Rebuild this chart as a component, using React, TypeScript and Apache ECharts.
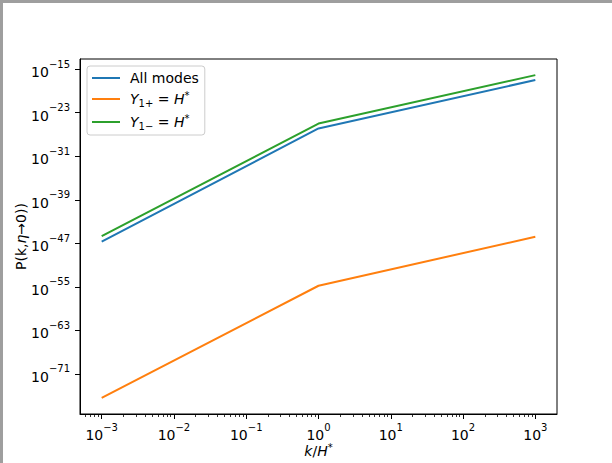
import React, { useEffect, useRef } from "react";
import * as echarts from "echarts";

const kValues = [1e-3, 1, 1e3];
const allModes = [2.0e-47, 1.3e-26, 1.0e-17];
const y1Plus = [4.0e-76, 1.6e-55, 1.6e-46];
const y1Minus = [2.0e-46, 1.0e-25, 8.0e-17];
const xTickExps = [-3, -2, -1, 0, 1, 2, 3];
const yTickExps = [-71, -63, -55, -47, -39, -31, -23, -15];
const seriesNames = ["All modes", "Y1+ = H*", "Y1- = H*"];
const colors = ["#1f77b4", "#ff7f0e", "#2ca02c"];

const FONT = "DejaVu Sans";

function pow10Label(v: number) {
  const e = Math.round(v);
  const s = e < 0 ? "\u2212" + Math.abs(e) : String(e);
  return `{b|10}{s|${s}}`;
}

const powRich = {
  b: { fontFamily: FONT, fontSize: 14, color: "#000", lineHeight: 20, verticalAlign: "bottom" },
  s: { fontFamily: FONT, fontSize: 10, color: "#000", lineHeight: 12, verticalAlign: "top" },
};

export default function App() {
  const ref = useRef<HTMLDivElement>(null);
  useEffect(() => {
    document.body.style.margin = "0";
    if (!ref.current) return;
    const chart = echarts.init(ref.current, undefined, { renderer: "svg" });

    const lx = kValues.map((v) => Math.log10(v));
    const allY = [...allModes, ...y1Plus, ...y1Minus].map((v) => Math.log10(v));
    const xMinD = Math.min(...lx), xMaxD = Math.max(...lx);
    const yMinD = Math.min(...allY), yMaxD = Math.max(...allY);
    const xPad = (xMaxD - xMinD) * 0.05;
    const yPad = (yMaxD - yMinD) * 0.05;
    const xMin = xMinD - xPad, xMax = xMaxD + xPad;
    const yMin = yMinD - yPad, yMax = yMaxD + yPad;

    const minorX: number[] = [];
    for (let n = -4; n <= 3; n++) {
      for (let k = 2; k <= 9; k++) {
        const v = n + Math.log10(k);
        if (v >= xMin && v <= xMax) minorX.push(v);
      }
    }

    const mk = (arr: number[]) => kValues.map((k, i) => [Math.log10(k), Math.log10(arr[i])]);
    const datasets = [allModes, y1Plus, y1Minus];

    const legendRich = {
      n: { fontFamily: FONT, fontSize: 14, color: "#000", lineHeight: 18, padding: [0, 0, 0, 5] },
      i: { fontFamily: FONT, fontSize: 14, fontStyle: "italic", color: "#000", lineHeight: 18, padding: [0, 0, 0, 5] },
      ii: { fontFamily: FONT, fontSize: 14, fontStyle: "italic", color: "#000", lineHeight: 18 },
      t: { fontFamily: FONT, fontSize: 14, color: "#000", lineHeight: 18 },
      sub: { fontFamily: FONT, fontSize: 10, color: "#000", lineHeight: 10, verticalAlign: "bottom" },
      sup: { fontFamily: FONT, fontSize: 10, color: "#000", lineHeight: 10, verticalAlign: "top" },
    };

    chart.setOption({
      animation: false,
      backgroundColor: "#fff",
      textStyle: { fontFamily: FONT },
      grid: {
        left: 80,
        top: 59,
        right: 55,
        bottom: 49,
        show: true,
        borderColor: "#000",
        borderWidth: 1,
        backgroundColor: "transparent",
        containLabel: false,
        outerBoundsMode: "none",
      },
      legend: {
        orient: "vertical",
        left: 87,
        top: 66,
        data: seriesNames,
        icon: "rect",
        itemWidth: 28,
        itemHeight: 2,
        itemGap: 5,
        padding: [5, 6, 4, 5],
        backgroundColor: "rgba(255,255,255,0.8)",
        borderColor: "#cccccc",
        borderWidth: 1,
        borderRadius: 3,
        textStyle: { rich: legendRich },
        formatter: (name: string) => {
          if (name === seriesNames[0]) return "{n|All modes}";
          if (name === seriesNames[1]) return "{i|Y}{sub|1+}{t| = }{ii|H}{sup|*}";
          return "{i|Y}{sub|1\u2212}{t| = }{ii|H}{sup|*}";
        },
      },
      xAxis: [
        {
          type: "value",
          min: xMin,
          max: xMax,
          splitLine: { show: false },
          axisLine: { show: true, onZero: false, lineStyle: { color: "#000", width: 1 } },
          axisTick: {
            show: true,
            inside: false,
            length: 5,
            lineStyle: { color: "#000", width: 1 },
            customValues: xTickExps,
          },
          axisLabel: {
            show: true,
            margin: 8,
            customValues: xTickExps,
            formatter: pow10Label,
            rich: powRich,
          },
          name: "{ki|k}{kn|/}{ki|H}{ks|*}",
          nameLocation: "middle",
          nameGap: 28,
          nameMoveOverlap: false,
          nameTextStyle: {
            rich: {
              ki: { fontFamily: FONT, fontSize: 14, fontStyle: "italic", color: "#000", lineHeight: 18 },
              kn: { fontFamily: FONT, fontSize: 14, color: "#000", lineHeight: 18 },
              ks: { fontFamily: FONT, fontSize: 10, color: "#000", lineHeight: 10, verticalAlign: "top" },
            },
          },
        },
        {
          type: "value",
          min: xMin,
          max: xMax,
          position: "bottom",
          splitLine: { show: false },
          axisLine: { show: false, onZero: false },
          axisTick: {
            show: true,
            length: 3,
            lineStyle: { color: "#000", width: 0.8 },
            customValues: minorX,
          },
          axisLabel: { show: false },
        },
      ],
      yAxis: {
        type: "value",
        min: yMin,
        max: yMax,
        splitLine: { show: false },
        axisLine: { show: true, onZero: false, lineStyle: { color: "#000", width: 1 } },
        axisTick: {
          show: true,
          length: 5,
          lineStyle: { color: "#000", width: 1 },
          customValues: yTickExps,
        },
        axisLabel: {
          show: true,
          margin: 10,
          customValues: yTickExps,
          formatter: pow10Label,
          rich: powRich,
        },
        name: "{a|P(k,}{e|\u03b7}{a|\u21920))}",
        nameLocation: "middle",
        nameGap: 52,
        nameRotate: 90,
        nameMoveOverlap: false,
        nameTextStyle: {
          rich: {
            a: { fontFamily: FONT, fontSize: 14, color: "#000" },
            e: { fontFamily: FONT, fontSize: 14, fontStyle: "italic", color: "#000" },
          },
        },
      },
      series: datasets.map((arr, i) => ({
        name: seriesNames[i],
        type: "line",
        xAxisIndex: 0,
        data: mk(arr),
        showSymbol: false,
        symbol: "none",
        lineStyle: { color: colors[i], width: 2 },
        itemStyle: { color: colors[i] },
      })),
    });
    return () => chart.dispose();
  }, []);

  return (
    <div style={{ position: "relative", width: 612, height: 463, overflow: "hidden", background: "#fff" }}>
      <div ref={ref} style={{ position: "absolute", left: 0, top: 0, width: 612, height: 463 }} />
      <div style={{ position: "absolute", left: 0, top: 0, width: 612, height: 3, background: "#9e9e9e" }} />
      <div style={{ position: "absolute", left: 0, top: 0, width: 3, height: 463, background: "#9e9e9e" }} />
    </div>
  );
}
